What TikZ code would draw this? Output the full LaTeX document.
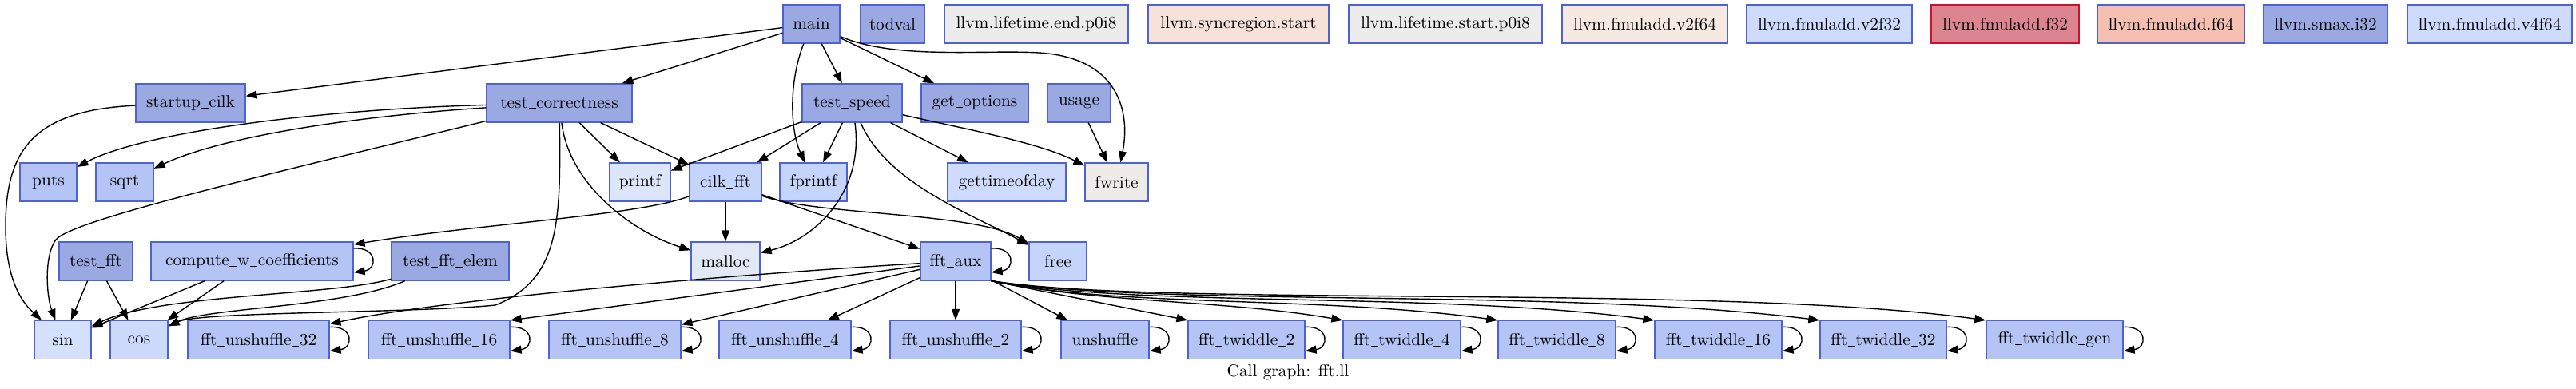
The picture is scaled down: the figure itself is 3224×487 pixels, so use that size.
\documentclass[tikz,border=0pt]{standalone}
\usetikzlibrary{arrows.meta,calc}
\definecolor{bordc}{RGB}{78,98,212}
\definecolor{redb}{RGB}{200,20,50}
\definecolor{cA}{RGB}{155,169,226}
\definecolor{cB}{RGB}{180,197,245}
\definecolor{cC}{RGB}{197,212,251}
\definecolor{cD}{RGB}{206,219,252}
\definecolor{cSin}{RGB}{213,225,252}
\definecolor{cCos}{RGB}{205,218,252}
\definecolor{cPr}{RGB}{220,229,250}
\definecolor{cMal}{RGB}{227,232,245}
\definecolor{cFw}{RGB}{239,235,232}
\definecolor{cLt}{RGB}{236,236,236}
\definecolor{cSy}{RGB}{247,226,217}
\definecolor{cV2}{RGB}{245,233,225}
\definecolor{cF32}{RGB}{220,133,144}
\definecolor{cF64}{RGB}{245,191,177}
\newcommand\us{\kern0.03em\rule[-0.12ex]{0.42em}{0.45pt}\kern0.03em}
\tikzset{
  fn/.style={draw=bordc, line width=0.6pt, minimum height=24pt, inner sep=0pt,
    font=\fontsize{10.7}{12}\selectfont, text=black},
  e/.style={-{Triangle[length=7pt,width=5pt]}, line width=0.7pt, black},
}
\newcommand\sloop[1]{\draw[e] ($(#1.east)+(0,-16)$) .. controls +(30,-2) and +(30,-4) .. ($(#1.east)+(0,14)$);}
\begin{document}
\begin{tikzpicture}[x=0.5pt,y=-0.5pt]
\useasboundingbox (0,0) rectangle (3224,487);
% row 1
\node[fn,fill=cA,minimum width=35.5pt] (main) at (1015.5,30) {main};
\node[fn,fill=cA,minimum width=40pt] (todval) at (1117,30) {todval};
\node[fn,fill=cLt,minimum width=115pt] (lte) at (1297,30) {llvm.lifetime.end.p0i8};
\node[fn,fill=cSy,minimum width=113pt] (sync) at (1550,30) {llvm.syncregion.start};
\node[fn,fill=cLt,minimum width=121pt] (lts) at (1809,30) {llvm.lifetime.start.p0i8};
\node[fn,fill=cV2,minimum width=103.5pt] (v2f64) at (2058.5,30) {llvm.fmuladd.v2f64};
\node[fn,fill=cD,minimum width=103.5pt] (v2f32) at (2289.5,30) {llvm.fmuladd.v2f32};
\node[fn,fill=cF32,draw=redb,minimum width=92.5pt] (f32) at (2509.5,30) {llvm.fmuladd.f32};
\node[fn,fill=cF64,minimum width=92pt] (f64) at (2717,30) {llvm.fmuladd.f64};
\node[fn,fill=cA,minimum width=77.5pt] (smax) at (2910.5,30) {llvm.smax.i32};
\node[fn,fill=cD,minimum width=103pt] (v4f64) at (3116,30) {llvm.fmuladd.v4f64};
% row 2
\node[fn,fill=cA,minimum width=68.5pt] (startup) at (238.5,129) {startup\us cilk};
\node[fn,fill=cA,minimum width=91pt] (tc) at (700,129) {test\us correctness};
\node[fn,fill=cA,minimum width=62.5pt] (ts) at (1066.5,129) {test\us speed};
\node[fn,fill=cA,minimum width=67pt] (getopt) at (1220,129) {get\us options};
\node[fn,fill=cA,minimum width=39.5pt] (usage) at (1350.5,129) {usage};
% row 3
\node[fn,fill=cB,minimum width=35.5pt] (puts) at (60.5,228) {puts};
\node[fn,fill=cB,minimum width=36pt] (sqrt) at (156,228) {sqrt};
\node[fn,fill=cPr,minimum width=38pt] (printf) at (801,228) {printf};
\node[fn,fill=cC,minimum width=45pt] (cilkfft) at (908,228) {cilk\us fft};
\node[fn,fill=cC,minimum width=42pt] (fprintf) at (1018,228) {fprintf};
\node[fn,fill=cD,minimum width=74pt] (gtod) at (1260,228) {gettimeofday};
\node[fn,fill=cFw,minimum width=39.5pt] (fwrite) at (1397.5,228) {fwrite};
% row 4
\node[fn,fill=cA,minimum width=46pt] (testfft) at (120,327) {test\us fft};
\node[fn,fill=cB,minimum width=126.5pt] (cwc) at (315.5,327) {compute\us w\us coefficients};
\node[fn,fill=cA,minimum width=73.5pt] (tfe) at (563.5,327) {test\us fft\us elem};
\node[fn,fill=cMal,minimum width=43pt] (malloc) at (908,327) {malloc};
\node[fn,fill=cB,minimum width=44pt] (fftaux) at (1196,327) {fft\us aux};
\node[fn,fill=cC,minimum width=36pt] (free) at (1324,327) {free};
% row 5
\node[fn,fill=cSin,minimum width=35.5pt] (sin) at (78.5,425.5) {sin};
\node[fn,fill=cCos,minimum width=36pt] (cos) at (174,425.5) {cos};
\node[fn,fill=cB,minimum width=88.5pt] (fu32) at (323.5,425.5) {fft\us unshuffle\us 32};
\node[fn,fill=cB,minimum width=88.5pt] (fu16) at (549.5,425.5) {fft\us unshuffle\us 16};
\node[fn,fill=cB,minimum width=82.5pt] (fu8) at (769.5,425.5) {fft\us unshuffle\us 8};
\node[fn,fill=cB,minimum width=82.5pt] (fu4) at (982.5,425.5) {fft\us unshuffle\us 4};
\node[fn,fill=cB,minimum width=82pt] (fu2) at (1196,425.5) {fft\us unshuffle\us 2};
\node[fn,fill=cB,minimum width=55pt] (unsh) at (1383,425.5) {unshuffle};
\node[fn,fill=cB,minimum width=73pt] (tw2) at (1560,425.5) {fft\us twiddle\us 2};
\node[fn,fill=cB,minimum width=73.5pt] (tw4) at (1754.5,425.5) {fft\us twiddle\us 4};
\node[fn,fill=cB,minimum width=73.5pt] (tw8) at (1948.5,425.5) {fft\us twiddle\us 8};
\node[fn,fill=cB,minimum width=79.5pt] (tw16) at (2150.5,425.5) {fft\us twiddle\us 16};
\node[fn,fill=cB,minimum width=79pt] (tw32) at (2357,425.5) {fft\us twiddle\us 32};
\node[fn,fill=cB,minimum width=85.5pt] (twgen) at (2571.5,425.5) {fft\us twiddle\us gen};
\node[font=\fontsize{10.7}{12}\selectfont] (cap) at (1612,466) {Call graph: fft.ll};
% edges from main
\draw[e] (main) -- (startup);
\draw[e] (main) -- (tc);
\draw[e] (main) -- (ts);
\draw[e] (main) -- (getopt);
\draw[e] (main) .. controls (988,100) and (988,160) .. (fprintf);
\draw[e] (main) .. controls (1120,75) and (1230,62) .. (1300,66) .. controls (1400,72) and (1415,140) .. (fwrite);
% startup
\draw[e] (startup) .. controls (40,138) and (8,190) .. (7,280) .. controls (6,360) and (35,385) .. (sin);
% test_correctness
\draw[e] (tc) .. controls (400,137) and (180,165) .. (puts);
\draw[e] (tc) .. controls (450,145) and (280,170) .. (sqrt);
\draw[e] (tc) .. controls (350,215) and (90,275) .. (70,300) .. controls (55,320) and (58,370) .. (sin);
\draw[e] (tc) -- (printf);
\draw[e] (tc) -- (cilkfft);
\draw[e] (tc) .. controls (712,230) and (790,290) .. (malloc);
\draw[e] (tc) .. controls (702,280) and (700,350) .. (620,382) .. controls (520,392) and (250,390) .. (cos);
% test_speed
\draw[e] (ts) -- (printf);
\draw[e] (ts) -- (cilkfft);
\draw[e] (ts) -- (fprintf);
\draw[e] (ts) -- (gtod);
\draw[e] (ts) .. controls (1200,160) and (1300,178) .. (fwrite);
\draw[e] (ts) .. controls (1082,240) and (1020,300) .. (malloc);
\draw[e] (ts) .. controls (1110,230) and (1220,270) .. (free);
\draw[e] (usage) -- (fwrite);
% cilk_fft
\draw[e] (cilkfft) .. controls (800,270) and (600,280) .. (cwc);
\draw[e] (cilkfft) -- (malloc);
\draw[e] (cilkfft) -- (fftaux);
\draw[e] (cilkfft) .. controls (1020,270) and (1220,265) .. (free);
% row 4 to sin/cos
\sloop{cwc}
\draw[e] (testfft) -- (sin);
\draw[e] (testfft) -- (cos);
\draw[e] (cwc) -- (sin);
\draw[e] (cwc) -- (cos);
\draw[e] (tfe) .. controls (420,370) and (200,368) .. (sin);
\draw[e] (tfe) .. controls (430,385) and (260,385) .. (cos);
% fft_aux
\sloop{fftaux}
\draw[e] (fftaux) .. controls (900,345) and (550,375) .. (fu32);
\draw[e] (fftaux) -- (fu16.north east);
\draw[e] (fftaux) -- (fu8);
\draw[e] (fftaux) -- (fu4);
\draw[e] (fftaux) -- (fu2);
\draw[e] (fftaux) -- (unsh);
\draw[e] (fftaux.south east) -- (tw2.north west);
\draw[e] (fftaux.south east) .. controls (1380,380) and (1530,375) .. (tw4.north west);
\draw[e] (fftaux.south east) .. controls (1400,385) and (1650,370) .. (tw8.north west);
\draw[e] (fftaux.south east) .. controls (1420,385) and (1800,365) .. (tw16.north west);
\draw[e] (fftaux.south east) .. controls (1450,385) and (1950,360) .. (tw32.north west);
\draw[e] (fftaux.south east) .. controls (1450,385) and (2150,355) .. (twgen.north west);
\sloop{fu32}
\sloop{fu16}
\sloop{fu8}
\sloop{fu4}
\sloop{fu2}
\sloop{unsh}
\sloop{tw2}
\sloop{tw4}
\sloop{tw8}
\sloop{tw16}
\sloop{tw32}
\sloop{twgen}
\end{tikzpicture}
\end{document}
